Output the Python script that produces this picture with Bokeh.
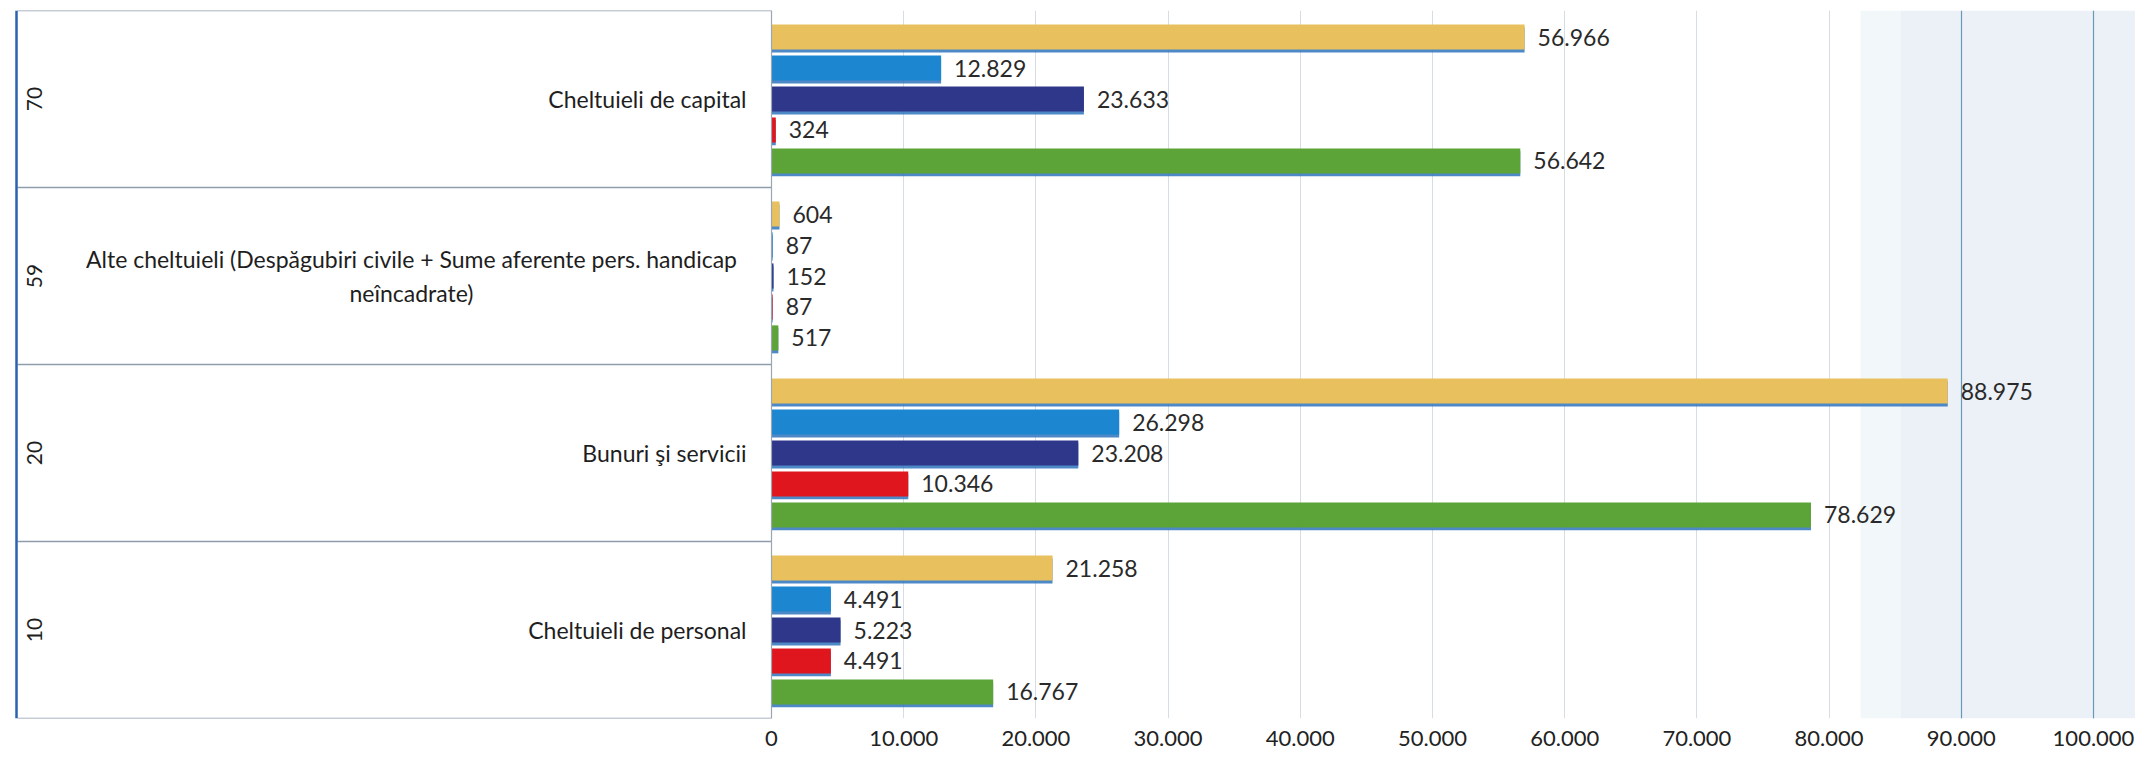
from bokeh.plotting import figure
from bokeh.models import ColumnDataSource, FactorRange, Range1d, FixedTicker, Grid, Span, BoxAnnotation
from bokeh.transform import dodge
from bokeh.core.properties import value
from bokeh.embed import file_html
from bokeh.resources import INLINE
import math

# ---------------- data (top to bottom as in the chart) ----------------
codes = ["70", "59", "20", "10"]
names = [
    "Cheltuieli de capital",
    "Alte cheltuieli (Despăgubiri civile + Sume aferente pers. handicap\nneîncadrate)",
    "Bunuri şi servicii",
    "Cheltuieli de personal",
]
serie_galben = [56966, 604, 88975, 21258]
serie_albastru = [12829, 87, 26298, 4491]
serie_bleumarin = [23633, 152, 23208, 5223]
serie_rosu = [324, 87, 10346, 4491]
serie_verde = [56642, 517, 78629, 16767]
x_ticks = [0, 10000, 20000, 30000, 40000, 50000, 60000, 70000, 80000, 90000, 100000]
x_tick_labels = ["0", "10.000", "20.000", "30.000", "40.000", "50.000",
                 "60.000", "70.000", "80.000", "90.000", "100.000"]

series = [
    ("galben", serie_galben, "#E8C15E", 0.35),
    ("albastru", serie_albastru, "#1C86D1", 0.175),
    ("bleumarin", serie_bleumarin, "#2E378A", 0.0),
    ("rosu", serie_rosu, "#E0161F", -0.175),
    ("verde", serie_verde, "#5CA437", -0.35),
]

def fmt(v):
    return f"{v:,}".replace(",", ".")

# ---------------- layout ----------------
W, H = 2135, 752
ZERO_PX = 771.0          # canvas px of x = 0
PX_PER_UNIT = 132.2 / 10000.0

def x_at(px):
    return (px - ZERO_PX) / PX_PER_UNIT

FONT = "Lato"

data = dict(code=codes, name=names)
for key, vals, col, off in series:
    data[key] = vals
    data[key + "_lbl"] = [fmt(v) for v in vals]
src = ColumnDataSource(data)

p = figure(
    width=W, height=H,
    x_range=Range1d(x_at(0), x_at(W)),
    y_range=FactorRange(factors=codes[::-1], range_padding=0, factor_padding=0),
    y_axis_location=None,
    toolbar_location=None,
    output_backend="svg",
    min_border_left=0, min_border_right=0, min_border_top=10, min_border_bottom=34,
    outline_line_color=None,
    background_fill_color="white", border_fill_color="white",
)

# scanned bluish texture at right side
p.add_layout(BoxAnnotation(left=x_at(1860), right=x_at(1900), fill_color="#f1f6fa", fill_alpha=0.9,
                           line_color=None, level="image"))
p.add_layout(BoxAnnotation(left=x_at(1900), fill_color="#e7eff6", fill_alpha=0.85,
                           line_color=None, level="image"))

# grid
p.ygrid.visible = False
p.xgrid.ticker = FixedTicker(ticks=x_ticks)
p.xgrid.grid_line_color = "#d6dde4"
p.xgrid.grid_line_width = 1
p.add_layout(Grid(dimension=0, ticker=FixedTicker(ticks=x_ticks[-2:]),
                  grid_line_color="#6a98bb", grid_line_width=1.2))

# x axis
p.xaxis.ticker = FixedTicker(ticks=x_ticks)
p.xaxis.major_label_overrides = {t: l for t, l in zip(x_ticks, x_tick_labels)}
p.xaxis.axis_line_color = None
p.xaxis.major_tick_line_color = None
p.xaxis.minor_tick_line_color = None
p.xaxis.major_label_standoff = 6
p.xaxis.major_label_text_font = FONT
p.xaxis.major_label_text_font_size = "22px"
p.xaxis.major_label_text_color = "#222222"

# bars with a blue shadow underneath
for key, vals, col, off in series:
    p.hbar(y=dodge("code", off - 0.016, range=p.y_range), left=0, right=key, height=0.142,
           source=src, fill_color="#2f74bd", fill_alpha=0.85, line_color=None)
    p.hbar(y=dodge("code", off, range=p.y_range), left=0, right=key, height=0.142,
           source=src, fill_color=col, line_color=None)
    p.text(x=key, y=dodge("code", off, range=p.y_range), text=key + "_lbl", source=src,
           x_offset=13, text_baseline="middle", text_align="left",
           text_font=value(FONT), text_font_size="23px", text_color="#2a2a2a")

# left category panel: separators, axis line, page border
bounds = list(range(len(codes) + 1))
p.segment(x0=[x_at(17)] * len(bounds), x1=[0] * len(bounds), y0=bounds, y1=bounds,
          line_color="#8e9cab", line_width=1.5)
p.add_layout(Span(location=0, dimension="height", line_color="#9aa6b2", line_width=1.2))
p.add_layout(Span(location=x_at(16), dimension="height", line_color="#2a62ad", line_width=2.5))

# category names (right-aligned next to the bars, wrapped one centered)
single = [i for i, n in enumerate(names) if "\n" not in n]
multi = [i for i, n in enumerate(names) if "\n" in n]
p.text(x=[x_at(746)] * len(single), y=[codes[i] for i in single], text=[names[i] for i in single],
       text_align="right", text_baseline="middle",
       text_font=value(FONT), text_font_size="23px", text_color="#1e1e1e")
p.text(x=[x_at(411)] * len(multi), y=[codes[i] for i in multi], text=[names[i] for i in multi],
       text_align="center", text_baseline="middle", text_line_height=1.2,
       text_font=value(FONT), text_font_size="23px", text_color="#1e1e1e")

# codes, rotated
p.text(x=[x_at(34)] * len(codes), y=codes, text=codes, angle=math.pi / 2,
       text_align="center", text_baseline="middle",
       text_font=value(FONT), text_font_size="21px", text_color="#1e1e1e")

open("out.html", "w").write(file_html(p, INLINE))
